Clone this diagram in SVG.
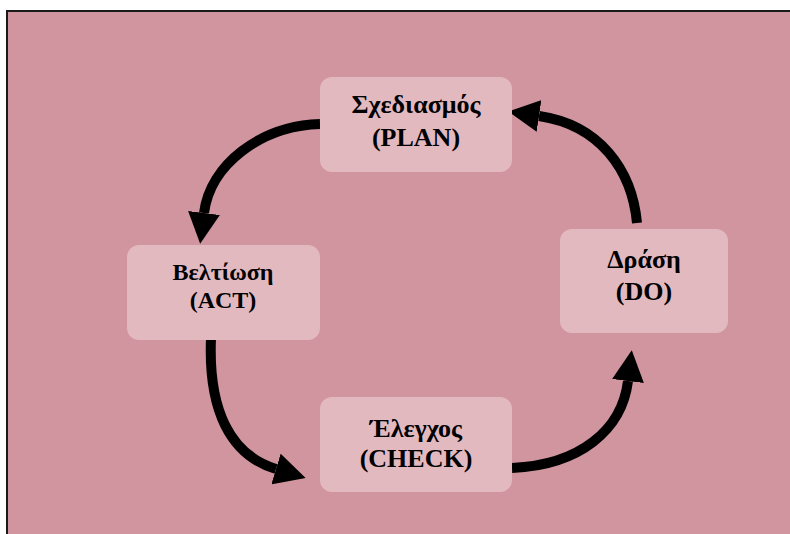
<svg xmlns="http://www.w3.org/2000/svg" width="790" height="534" viewBox="0 0 790 534">
  <style>
    .panel { fill: #D1959F; stroke: #1a1a1a; stroke-width: 2; }
    .box { fill: #E3B9C0; }
    .label { font-family: "Liberation Serif", "Times New Roman", serif; font-weight: bold; fill: #000; text-anchor: middle; }
    .flow { fill: none; stroke: #000; stroke-width: 10; marker-end: url(#head); }
  </style>
  <defs>
    <marker id="head" viewBox="0 -16 31 32" markerWidth="31" markerHeight="32" refX="0" refY="0" orient="auto" markerUnits="userSpaceOnUse">
      <path d="M0,-16 L31,0 L0,16 z" fill="#000"/>
    </marker>
  </defs>

  <!-- background panel -->
  <rect class="panel" x="7" y="11" width="800" height="540"/>

  <!-- PDCA cycle -->
  <g id="connectors">
    <path class="flow" d="M320,124 C260,126 210,165 204,213"/>
    <path class="flow" d="M637,223 C632,170 600,125 539,116"/>
    <path class="flow" d="M211,338 C208,410 230,455 276,469"/>
    <path class="flow" d="M512,468 C580,465 622,430 628,381"/>
  </g>

  <g id="plan">
    <rect class="box" x="320" y="77" width="192" height="95" rx="12"/>
    <text class="label" x="416" y="113" font-size="26">Σχεδιασμός</text>
    <text class="label" x="416" y="146" font-size="26">(PLAN)</text>
  </g>

  <g id="act">
    <rect class="box" x="127" y="245" width="193" height="95" rx="12"/>
    <text class="label" x="223" y="280" font-size="24">Βελτίωση</text>
    <text class="label" x="223" y="308" font-size="24">(ACT)</text>
  </g>

  <g id="check">
    <rect class="box" x="320" y="397" width="192" height="95" rx="12"/>
    <text class="label" x="416" y="437" font-size="26">Έλεγχος</text>
    <text class="label" x="416" y="467" font-size="26">(CHECK)</text>
  </g>

  <g id="do">
    <rect class="box" x="560" y="229" width="168" height="104" rx="12"/>
    <text class="label" x="644" y="268" font-size="26">Δράση</text>
    <text class="label" x="644" y="300" font-size="26">(DO)</text>
  </g>
</svg>
